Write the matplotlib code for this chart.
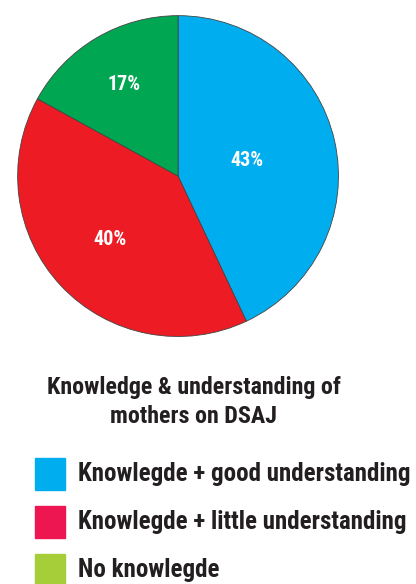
import numpy as np
import matplotlib.pyplot as plt
from matplotlib.patches import Rectangle

categories = ['Knowlegde + good understanding',
              'Knowlegde + little understanding',
              'No knowlegde']
shares = [43, 40, 17]
pie_colors = ['#00AEEF', '#ED1C24', '#00A651']
legend_colors = ['#00AEEF', '#ED1651', '#A6CE39']
title = 'Knowledge & understanding of\nmothers on DSAJ'

font = ['Roboto Condensed', 'Liberation Sans Narrow', 'Roboto', 'DejaVu Sans']
ink = '#231F20'

fig = plt.figure(figsize=(4.16, 5.84), dpi=100)

ax = fig.add_axes([0.0385, 0.421, 0.779, 0.555])
wedges, _ = ax.pie(shares, colors=pie_colors, startangle=90, counterclock=False,
                   wedgeprops=dict(edgecolor='#444444', linewidth=0.6))
ax.set_xlim(-1.01, 1.01)
ax.set_ylim(-1.01, 1.01)
ax.set_aspect('equal')

# percentage labels placed along each wedge's mid angle
label_dist = [0.44, 0.58, 0.66]
for w, v, d in zip(wedges, shares, label_dist):
    mid = np.deg2rad((w.theta1 + w.theta2) / 2)
    ax.text(d * np.cos(mid), d * np.sin(mid), f'{v}%', ha='center', va='center',
            color='white', fontsize=14.5, fontweight='bold', family=font)

fig.text(0.466, 0.312, title, ha='center', va='center', fontsize=17.3,
         fontweight='bold', color=ink, family=font, linespacing=1.35)

# legend drawn as boxes with labels below the pie
lax = fig.add_axes([0, 0, 1, 1])
lax.set_xlim(0, 416)
lax.set_ylim(584, 0)
lax.axis('off')
for i, (name, c) in enumerate(zip(categories, legend_colors)):
    y = 474 + i * 48
    lax.add_patch(Rectangle((35, y - 16), 30, 32, color=c))
    lax.text(78, y, name, ha='left', va='center', fontsize=18,
             fontweight='bold', color=ink, family=font)

fig.savefig('out.png', dpi=100)
